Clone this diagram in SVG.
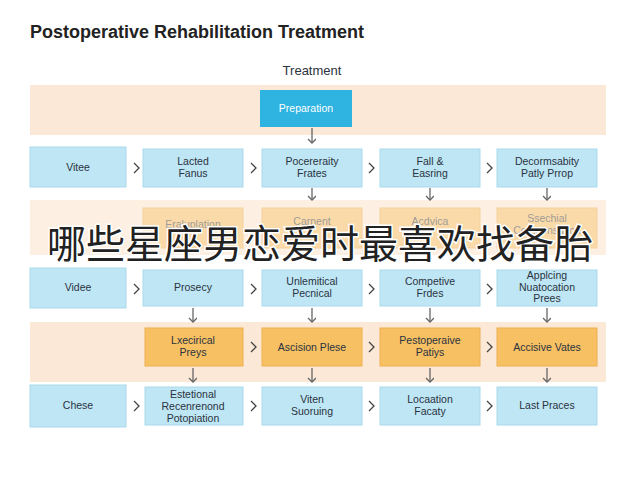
<svg xmlns="http://www.w3.org/2000/svg" width="640" height="480" viewBox="0 0 640 480">
<style>
text{font-family:"Liberation Sans",Arial,sans-serif;fill:#2a3340;text-anchor:middle}
.b{fill:#bfe6f5;stroke:#a9d9ec;stroke-width:1}
.o{fill:#f7c063;stroke:#eeb050;stroke-width:1}
.n{font-size:10.5px}
.g{font-size:18px;fill:#222;font-weight:bold;text-anchor:start}
.c{stroke:#666;stroke-width:1.3;fill:none}
</style>
<defs><marker id="a" markerWidth="8" markerHeight="10" refX="6" refY="4" orient="auto" markerUnits="userSpaceOnUse"><path d="M2,0 L6,4 L2,8" fill="none" stroke="#666" stroke-width="1.3"/></marker></defs>
<rect width="640" height="480" fill="#fff"/>
<text x="30" y="38" class="g">Postoperative Rehabilitation Treatment</text>
<text x="312" y="75" style="font-size:13px">Treatment</text>
<rect x="30" y="85" width="576" height="50" fill="#fbe8d6"/>
<rect x="30" y="200" width="576" height="55" fill="#fdf0e2"/>
<rect x="30" y="322" width="576" height="60" fill="#fbe8d6"/>
<g id="prep"><rect x="260" y="90" width="92" height="37" fill="#2fb3e0"/><text x="306" y="112" class="n" style="fill:#fff">Preparation</text></g>
<g id="r1">
<rect class="b" x="30" y="147" width="96" height="40"/><text x="78" y="171" class="n">Vitee</text>
<rect class="b" x="143" y="149" width="100" height="38"/><text x="193" y="165" class="n">Lacted</text><text x="193" y="177" class="n">Fanus</text>
<rect class="b" x="262" y="149" width="100" height="38"/><text x="312" y="165" class="n">Pocereraity</text><text x="312" y="177" class="n">Frates</text>
<rect class="b" x="380" y="149" width="100" height="38"/><text x="430" y="165" class="n">Fall &amp;</text><text x="430" y="177" class="n">Easring</text>
<rect class="b" x="497" y="149" width="100" height="38"/><text x="547" y="165" class="n">Decormsabity</text><text x="547" y="177" class="n">Patly Prrop</text>
</g>
<g id="r2" opacity="0.45">
<rect class="o" x="143" y="208" width="100" height="40"/><text x="193" y="228" class="n">Eraluplation</text>
<rect class="o" x="262" y="208" width="100" height="40"/><text x="312" y="225" class="n">Carnent</text>
<rect class="o" x="380" y="208" width="100" height="40"/><text x="430" y="225" class="n">Acdvica</text>
<rect class="o" x="497" y="208" width="100" height="40"/><text x="547" y="222" class="n">Ssechial</text><text x="547" y="234" class="n">Compensation</text>
</g>
<g id="r3">
<rect class="b" x="30" y="268" width="96" height="40"/><text x="78" y="291" class="n">Videe</text>
<rect class="b" x="143" y="270" width="100" height="36"/><text x="193" y="291" class="n">Prosecy</text>
<rect class="b" x="262" y="270" width="100" height="36"/><text x="312" y="285" class="n">Unlemitical</text><text x="312" y="297" class="n">Pecnical</text>
<rect class="b" x="380" y="270" width="100" height="36"/><text x="430" y="285" class="n">Competive</text><text x="430" y="297" class="n">Frdes</text>
<rect class="b" x="497" y="270" width="100" height="36"/><text x="547" y="279" class="n">Applcing</text><text x="547" y="291" class="n">Nuatocation</text><text x="547" y="302" class="n">Prees</text>
</g>
<g id="r4">
<rect class="o" x="145" y="328" width="98" height="38"/><text x="193" y="344" class="n">Lxecirical</text><text x="193" y="356" class="n">Preys</text>
<rect class="o" x="262" y="328" width="100" height="38"/><text x="312" y="351" class="n">Ascision Plese</text>
<rect class="o" x="380" y="328" width="100" height="38"/><text x="430" y="344" class="n">Pestoperaive</text><text x="430" y="356" class="n">Patiys</text>
<rect class="o" x="497" y="328" width="100" height="38"/><text x="547" y="351" class="n">Accisive Vates</text>
</g>
<g id="r5">
<rect class="b" x="30" y="385" width="96" height="42"/><text x="78" y="409" class="n">Chese</text>
<rect class="b" x="145" y="387" width="98" height="38"/><text x="193" y="398" class="n">Estetional</text><text x="193" y="410" class="n">Recenrenond</text><text x="193" y="422" class="n">Potopiation</text>
<rect class="b" x="262" y="387" width="100" height="38"/><text x="312" y="403" class="n">Viten</text><text x="312" y="415" class="n">Suoruing</text>
<rect class="b" x="380" y="387" width="100" height="38"/><text x="430" y="403" class="n">Locaation</text><text x="430" y="415" class="n">Facaty</text>
<rect class="b" x="497" y="387" width="100" height="38"/><text x="547" y="409" class="n">Last Praces</text>
</g>
<g id="connectors" class="c">
<path class="c" d="M312,128 V143" marker-end="url(#a)"/>
<path class="c" d="M312,188 V200" marker-end="url(#a)"/><path class="c" d="M430,188 V200" marker-end="url(#a)"/><path class="c" d="M547,188 V200" marker-end="url(#a)"/>
<path class="c" d="M193,308 V322" marker-end="url(#a)"/><path class="c" d="M312,308 V322" marker-end="url(#a)"/><path class="c" d="M430,308 V322" marker-end="url(#a)"/><path class="c" d="M547,308 V322" marker-end="url(#a)"/>
<path class="c" d="M193,368 V382" marker-end="url(#a)"/><path class="c" d="M312,368 V382" marker-end="url(#a)"/><path class="c" d="M430,368 V382" marker-end="url(#a)"/><path class="c" d="M547,368 V382" marker-end="url(#a)"/>
<g stroke="#444">
<path d="M134,163 l5,5 l-5,5"/><path d="M251,163 l5,5 l-5,5"/><path d="M369,163 l5,5 l-5,5"/><path d="M487,163 l5,5 l-5,5"/>
<path d="M134,284 l5,5 l-5,5"/><path d="M251,284 l5,5 l-5,5"/><path d="M369,284 l5,5 l-5,5"/><path d="M487,284 l5,5 l-5,5"/>
<path d="M251,342 l5,5 l-5,5"/><path d="M369,342 l5,5 l-5,5"/><path d="M487,342 l5,5 l-5,5"/>
<path d="M134,401 l5,5 l-5,5"/><path d="M251,401 l5,5 l-5,5"/><path d="M369,401 l5,5 l-5,5"/><path d="M487,401 l5,5 l-5,5"/>
</g>
</g>
<text x="320" y="258" style="font-family:'Noto Sans CJK SC',sans-serif;font-size:39px;fill:#222;stroke:#fff;stroke-width:3;paint-order:stroke">哪些星座男恋爱时最喜欢找备胎</text>
</svg>
